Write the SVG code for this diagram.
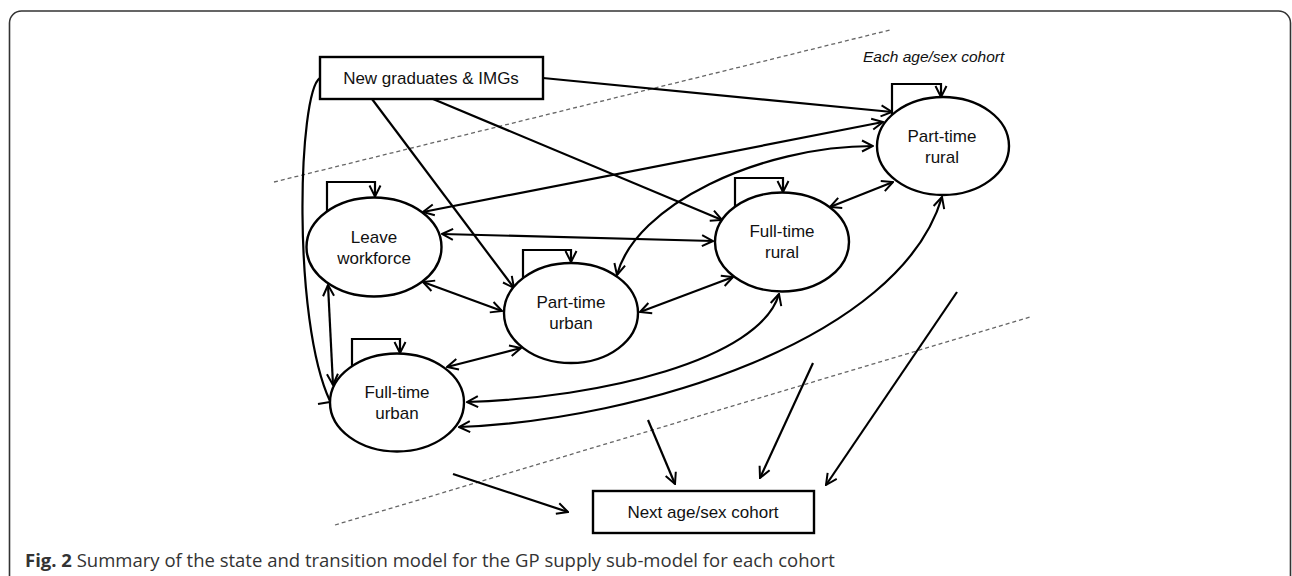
<svg xmlns="http://www.w3.org/2000/svg" width="1292" height="576" viewBox="0 0 1292 576">
<defs>
<marker id="ah" viewBox="0 0 14 14" refX="13" refY="7" markerWidth="14" markerHeight="14" markerUnits="userSpaceOnUse" orient="auto-start-reverse">
<path d="M2,1.5 L13,7 L2,12.5" fill="none" stroke="#000" stroke-width="2"/>
</marker>
<style>
.n{fill:#fff;stroke:#000;stroke-width:2.4}
.t{font-family:"Liberation Sans",Arial,sans-serif;font-size:17px;fill:#111;text-anchor:middle}
.c{fill:none;stroke:#000;stroke-width:2.2}
.e{marker-end:url(#ah)}
.b{marker-start:url(#ah);marker-end:url(#ah)}
.d{fill:none;stroke:#666;stroke-width:1.3;stroke-dasharray:4 3}
</style>
</defs>
<rect x="9.5" y="11" width="1281" height="620" rx="12" fill="#fff" stroke="#333" stroke-width="1.6"/>
<g id="dividers">
<line class="d" x1="274" y1="182" x2="890" y2="30"/>
<line class="d" x1="335" y1="525" x2="1030" y2="317"/>
</g>
<g id="connectors">
<path class="c e" d="M543,78 L892,112"/>
<path class="c e" d="M372,99 L514,288"/>
<path class="c e" d="M433,99 L722,220"/>
<path class="c" d="M320,78 C298,92 292,320 330,401"/>
<path class="c" d="M318,404 L330,402"/>
<path class="c b" d="M328,285 L333,385"/>
<path class="c b" d="M423,212 L883,122"/>
<path class="c b" d="M423,282 L502,311"/>
<path class="c b" d="M442,234 L713,241"/>
<path class="c b" d="M617,275 C635,205 760,146 873,146"/>
<path class="c b" d="M640,312 L733,277"/>
<path class="c b" d="M447,367 L521,348"/>
<path class="c b" d="M830,207 L893,182"/>
<path class="c b" d="M467,402 C600,398 760,360 779,294"/>
<path class="c b" d="M459,427 C640,420 900,340 942,197"/>
<path class="c e" d="M327,211.5 V182 H375 V196.5"/>
<path class="c e" d="M523,278 V250 H571 V262"/>
<path class="c e" d="M735,207 V178 H783 V192"/>
<path class="c e" d="M892,115 V84 H941 V97"/>
<path class="c e" d="M352,366 V339 H400 V353"/>
<path class="c e" d="M453,474 L568,512"/>
<path class="c e" d="M648,420 L675,484"/>
<path class="c e" d="M813,363 L760,478"/>
<path class="c e" d="M957,292 L826,485"/>
</g>
<g id="new-graduates">
<rect class="n" x="320" y="57" width="223" height="42"/>
<text class="t" x="431" y="84">New graduates &amp; IMGs</text>
</g>
<g id="leave-workforce">
<ellipse class="n" cx="374" cy="247" rx="67.5" ry="49.5"/>
<text class="t" x="374" y="243">Leave</text>
<text class="t" x="374" y="264">workforce</text>
</g>
<g id="part-time-urban">
<ellipse class="n" cx="571" cy="313" rx="67" ry="50"/>
<text class="t" x="571" y="308">Part-time</text>
<text class="t" x="571" y="329">urban</text>
</g>
<g id="full-time-rural">
<ellipse class="n" cx="782" cy="242" rx="67" ry="49.5"/>
<text class="t" x="782" y="237">Full-time</text>
<text class="t" x="782" y="258">rural</text>
</g>
<g id="part-time-rural">
<ellipse class="n" cx="943" cy="146" rx="66" ry="49"/>
<text class="t" x="942" y="142">Part-time</text>
<text class="t" x="942" y="163">rural</text>
</g>
<g id="full-time-urban">
<ellipse class="n" cx="397" cy="402.5" rx="67" ry="49"/>
<text class="t" x="397" y="398">Full-time</text>
<text class="t" x="397" y="419">urban</text>
</g>
<g id="next-cohort">
<rect class="n" x="593" y="491" width="221" height="42"/>
<text class="t" x="703" y="518">Next age/sex cohort</text>
</g>
<text x="863" y="62" font-family="Liberation Sans, Arial, sans-serif" font-size="15.5" font-style="italic" fill="#111">Each age/sex cohort</text>
<text x="25" y="567" font-family="Open Sans, sans-serif" font-size="18.5" fill="#333"><tspan font-weight="bold">Fig. 2</tspan> Summary of the state and transition model for the GP supply sub-model for each cohort</text>
</svg>
